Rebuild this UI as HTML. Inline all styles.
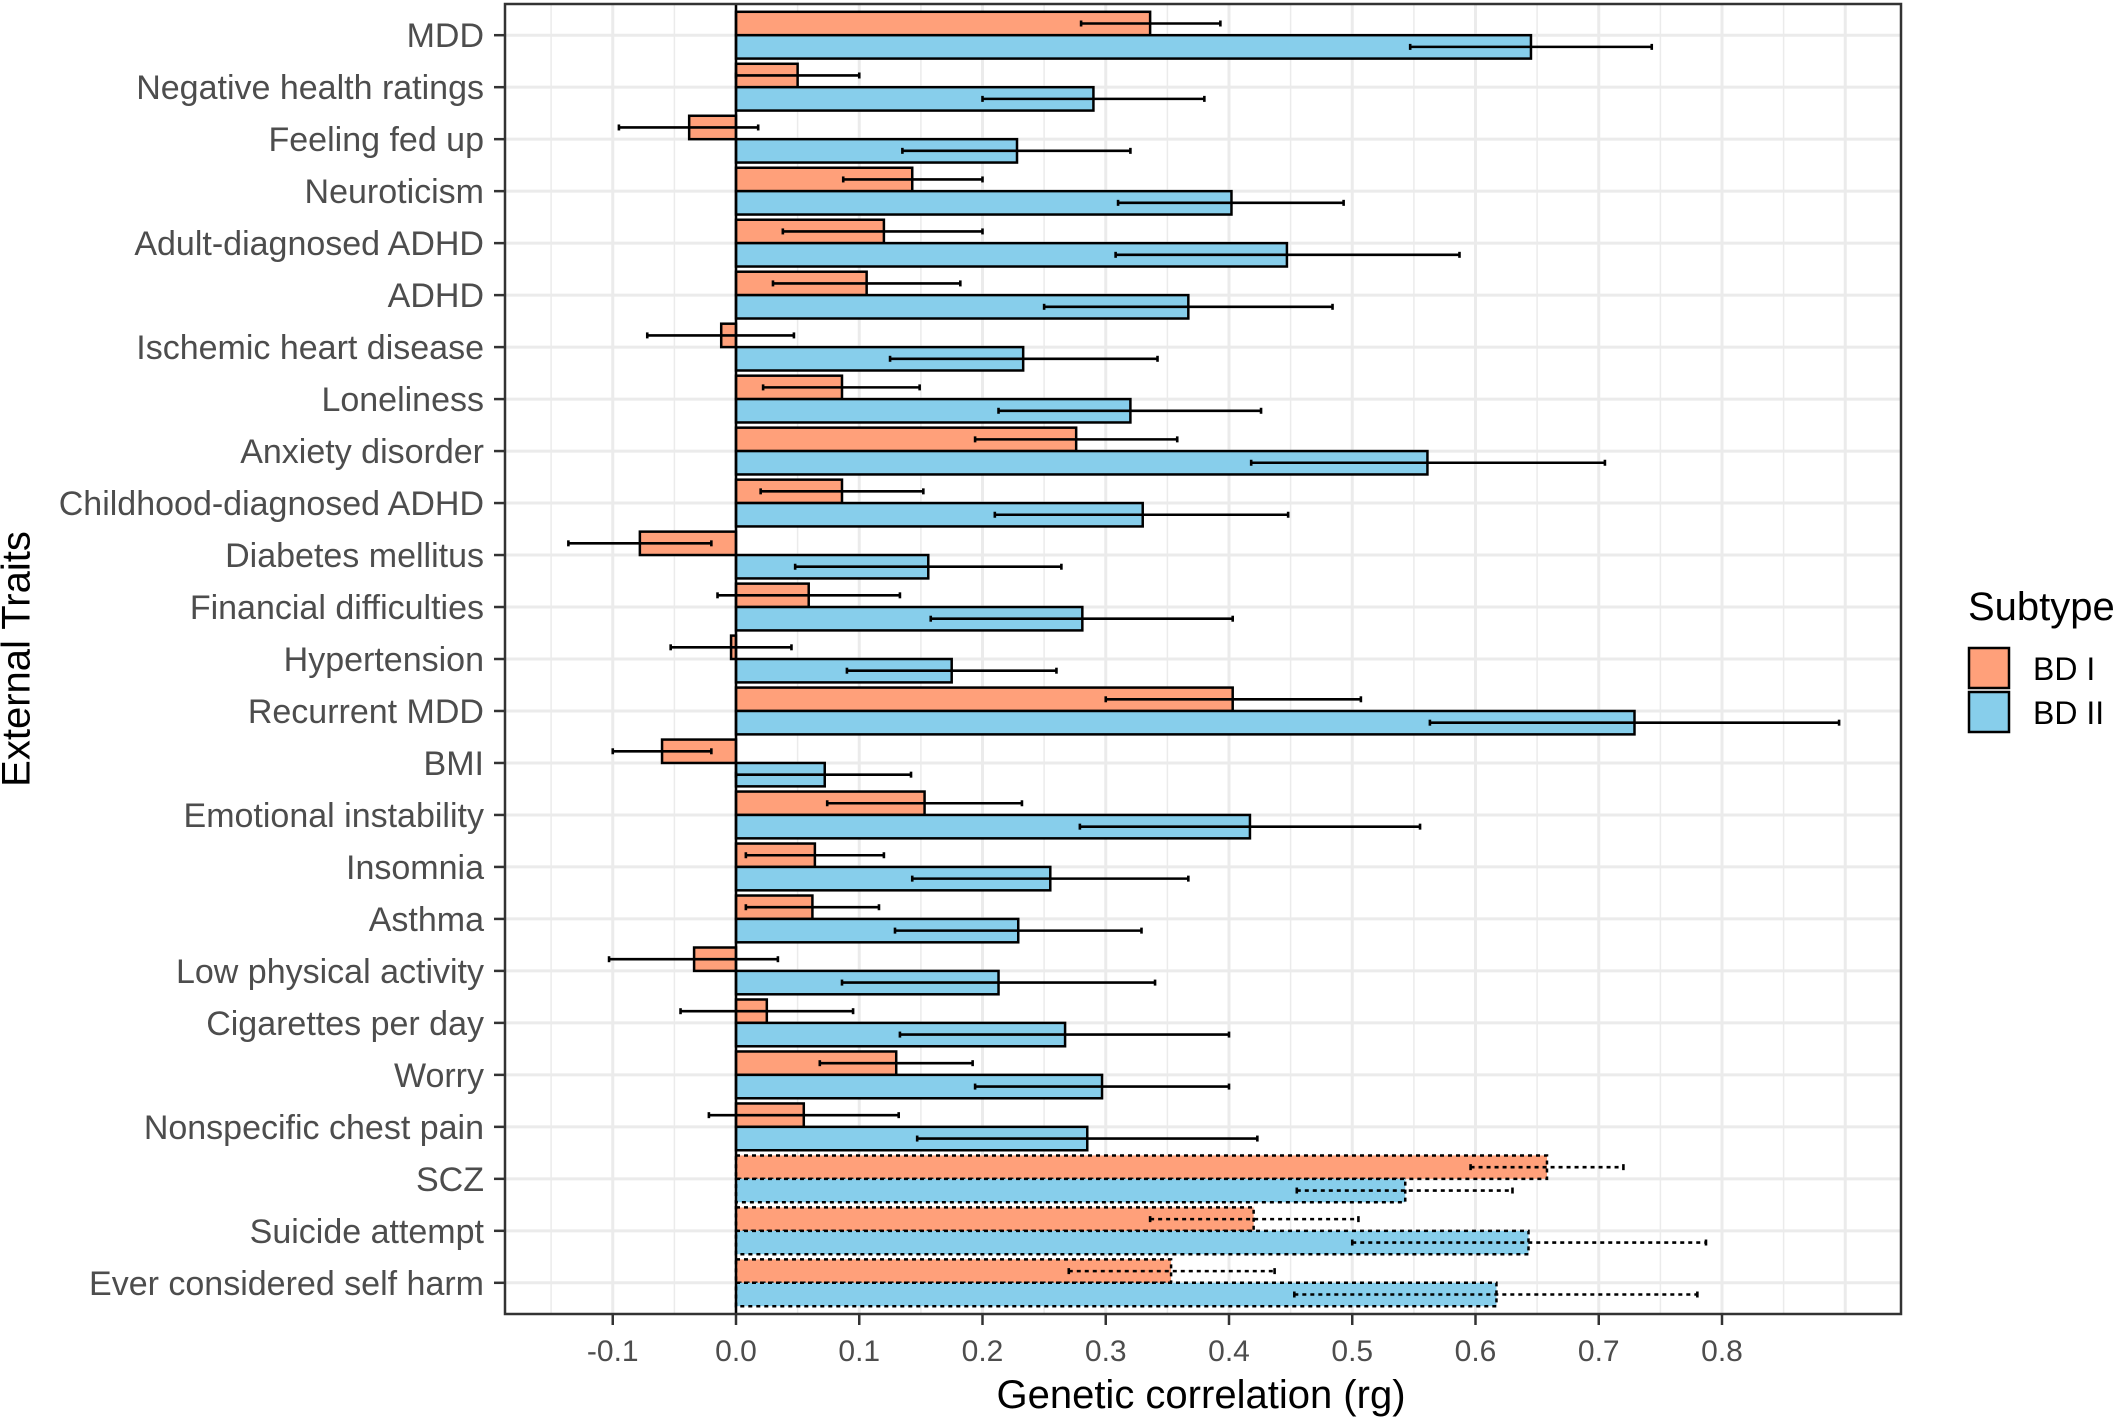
<!DOCTYPE html>
<html><head><meta charset="utf-8">
<style>
html,body{margin:0;padding:0;background:#fff;}
svg{display:block;font-family:"Liberation Sans",Arial,sans-serif;}
</style></head>
<body>
<svg id="chart" width="2126" height="1421" viewBox="0 0 2126 1421" xmlns="http://www.w3.org/2000/svg">
<g id="grid"></g>
<g id="bars"></g>
<g id="errs"></g>
<g id="axes"></g>
<text x="19" y="659" transform="rotate(-90 19 659)" text-anchor="middle" dominant-baseline="middle" font-size="40" fill="#000">External Traits</text>
<text x="1201" y="1408" text-anchor="middle" font-size="40" fill="#000">Genetic correlation (rg)</text>
<g>
<text x="1968" y="620" font-size="40" fill="#000">Subtype</text>
<g>
<rect x="1969" y="648" width="40" height="40" fill="#FFA07A" stroke="#000" stroke-width="2.5"/>
<text x="2033" y="680" font-size="32" fill="#000">BD I</text></g>
<g>
<rect x="1969" y="692" width="40" height="40" fill="#87CEEB" stroke="#000" stroke-width="2.5"/>
<text x="2033" y="724" font-size="32" fill="#000">BD II</text></g>
</g>
</svg>
<script>
const categories = ["MDD","Negative health ratings","Feeling fed up","Neuroticism","Adult-diagnosed ADHD","ADHD","Ischemic heart disease","Loneliness","Anxiety disorder","Childhood-diagnosed ADHD","Diabetes mellitus","Financial difficulties","Hypertension","Recurrent MDD","BMI","Emotional instability","Insomnia","Asthma","Low physical activity","Cigarettes per day","Worry","Nonspecific chest pain ","SCZ","Suicide attempt","Ever considered self harm"];
const bd1 = [0.336,0.05,-0.038,0.143,0.12,0.106,-0.012,0.086,0.276,0.086,-0.078,0.059,-0.004,0.403,-0.06,0.153,0.064,0.062,-0.034,0.025,0.13,0.055,0.658,0.42,0.353];
const bd1Lo = [0.28,0.0,-0.095,0.087,0.038,0.03,-0.072,0.022,0.194,0.02,-0.136,-0.015,-0.053,0.3,-0.1,0.074,0.008,0.008,-0.103,-0.045,0.068,-0.022,0.596,0.336,0.27];
const bd1Hi = [0.393,0.1,0.018,0.2,0.2,0.182,0.047,0.149,0.358,0.152,-0.02,0.133,0.045,0.507,-0.02,0.232,0.12,0.116,0.034,0.095,0.192,0.132,0.72,0.505,0.437];
const bd2 = [0.645,0.29,0.228,0.402,0.447,0.367,0.233,0.32,0.561,0.33,0.156,0.281,0.175,0.729,0.072,0.417,0.255,0.229,0.213,0.267,0.297,0.285,0.543,0.643,0.617];
const bd2Lo = [0.547,0.2,0.135,0.31,0.308,0.25,0.125,0.213,0.418,0.21,0.048,0.158,0.09,0.563,0.0,0.279,0.143,0.129,0.086,0.133,0.194,0.147,0.455,0.5,0.453];
const bd2Hi = [0.743,0.38,0.32,0.493,0.587,0.484,0.342,0.426,0.705,0.448,0.264,0.403,0.26,0.895,0.142,0.555,0.367,0.329,0.34,0.4,0.4,0.423,0.63,0.787,0.78];
const dashedFlags = [0,0,0,0,0,0,0,0,0,0,0,0,0,0,0,0,0,0,0,0,0,0,1,1,1];
const xTicks = [-0.1,0,0.1,0.2,0.3,0.4,0.5,0.6,0.7,0.8];
const xTickLabels = ["-0.1","0.0","0.1","0.2","0.3","0.4","0.5","0.6","0.7","0.8"];

const NS="http://www.w3.org/2000/svg";
const PL=505,PR=1901,PT=4,PB=1314;
const X0=736,XS=1232.5;
const x=v=>X0+v*XS;
const unit=(PB-PT)/(categories.length-1+1.2);
const y=i=>PT+(0.6+i)*unit;
const bw=unit*0.45;
function mk(tag,attrs,parent){const e=document.createElementNS(NS,tag);for(const k in attrs)e.setAttribute(k,attrs[k]);parent.appendChild(e);return e;}
const grid=document.getElementById('grid'),bars=document.getElementById('bars'),errs=document.getElementById('errs'),axes=document.getElementById('axes');
mk('rect',{x:PL,y:PT,width:PR-PL,height:PB-PT,fill:'#fff'},grid);
for(let v=-0.15;v<0.95;v+=0.1){const px=x(v);if(px>PL&&px<PR)mk('line',{x1:px,x2:px,y1:PT,y2:PB,stroke:'#EBEBEB','stroke-width':1.5},grid);}
for(let v=-0.1;v<0.95;v+=0.1){const px=x(Math.round(v*10)/10);mk('line',{x1:px,x2:px,y1:PT,y2:PB,stroke:'#EBEBEB','stroke-width':3},grid);}
categories.forEach((c,i)=>mk('line',{x1:PL,x2:PR,y1:y(i),y2:y(i),stroke:'#EBEBEB','stroke-width':3},grid));

function drawBar(v,lo,hi,i,top,fill,dash,name){
  const yy=top?y(i)-bw:y(i);
  const r=mk('rect',{x:Math.min(x(0),x(v)),y:yy,width:Math.abs(x(v)-x(0)),height:bw,fill:fill,stroke:'#000','stroke-width':2.5},bars);
  if(dash)r.setAttribute('stroke-dasharray','4 4');
  
  
  const cy=yy+bw/2;
  const g=mk('g',{stroke:'#000','stroke-width':2.6,fill:'none'},errs);
  
  
  const l=mk('line',{x1:x(lo),x2:x(hi),y1:cy,y2:cy},g);
  if(dash)l.setAttribute('stroke-dasharray','4 4');
  mk('line',{x1:x(lo),x2:x(lo),y1:cy-3,y2:cy+3},g);
  mk('line',{x1:x(hi),x2:x(hi),y1:cy-3,y2:cy+3},g);
}
categories.forEach((c,i)=>{
  drawBar(bd1[i],bd1Lo[i],bd1Hi[i],i,true,'#FFA07A',dashedFlags[i],'bar-bd1-'+i);
  drawBar(bd2[i],bd2Lo[i],bd2Hi[i],i,false,'#87CEEB',dashedFlags[i],'bar-bd2-'+i);
});
mk('line',{x1:x(0),x2:x(0),y1:PT,y2:PB,stroke:'#000','stroke-width':2.5},axes);
mk('rect',{x:PL,y:PT,width:PR-PL,height:PB-PT,fill:'none',stroke:'#333','stroke-width':2.5},axes);
xTicks.forEach((v,k)=>{
  mk('line',{x1:x(v),x2:x(v),y1:PB,y2:PB+11,stroke:'#333','stroke-width':2.5},axes);
  const t=mk('text',{x:x(v),y:PB+47,'text-anchor':'middle','font-size':30,fill:'#4D4D4D'},axes);
  t.textContent=xTickLabels[k];
  
  
});
categories.forEach((c,i)=>{
  mk('line',{x1:PL-11,x2:PL,y1:y(i),y2:y(i),stroke:'#333','stroke-width':2.5},axes);
  const t=mk('text',{x:PL-21,y:y(i)+12,'text-anchor':'end','font-size':34,fill:'#4D4D4D'},axes);
  t.setAttribute('xml:space','preserve');
  t.textContent=c;
  
  
});
</script>
</body></html>
